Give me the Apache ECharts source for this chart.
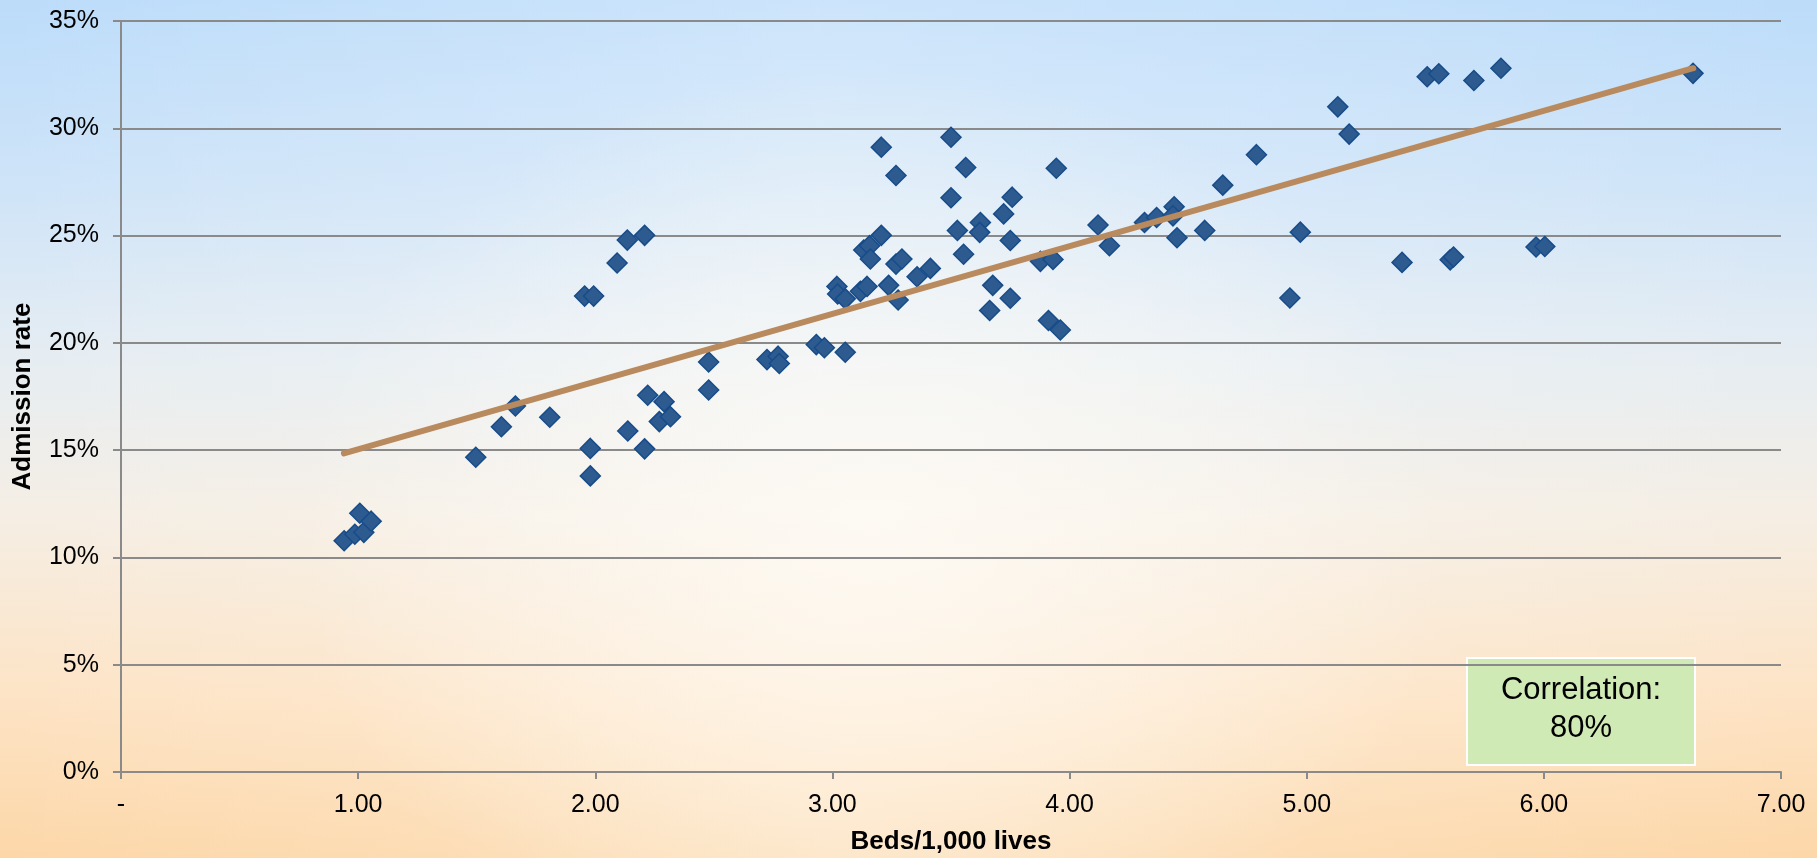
<!DOCTYPE html>
<html>
<head>
<meta charset="utf-8">
<script src="https://cdn.jsdelivr.net/npm/echarts@6/dist/echarts.min.js"></script>
<style>
html,body{margin:0;padding:0;width:1817px;height:858px;overflow:hidden;}
body{
  background:
    radial-gradient(ellipse 32% 55% at 48% 62%, rgba(255,252,246,0.75) 0%, rgba(255,252,246,0.35) 55%, rgba(255,252,246,0) 100%),
    linear-gradient(to right, rgba(255,255,255,0) 0%, rgba(255,255,255,0.25) 45%, rgba(255,255,255,0.15) 70%, rgba(255,255,255,0) 100%),
    linear-gradient(to bottom, #bcdcfa 0%, #cfe4f8 22%, #e6edf2 42%, #f5eee4 60%, #fde3c4 82%, #fcd7a8 100%);
}
#chart{width:1817px;height:858px;}
</style>
</head>
<body>
<div id="chart"></div>
<script>
// Beds per 1,000 lives (x) and admission rate in % (y)
const bedsX = [
  0.941,0.986,1.007,1.024,1.055,1.496,1.604,1.663,1.808,1.955,
  1.993,1.979,1.979,2.092,2.135,2.208,2.137,2.208,2.221,2.270,
  2.290,2.317,2.478,2.478,2.724,2.771,2.776,2.932,2.966,3.054,
  3.019,3.022,3.054,3.118,3.146,3.132,3.157,3.160,3.206,3.206,
  3.237,3.268,3.268,3.293,3.277,3.357,3.413,3.500,3.500,3.527,
  3.562,3.553,3.624,3.621,3.663,3.676,3.722,3.758,3.750,3.750,
  3.877,3.930,3.911,3.961,3.944,4.120,4.168,4.316,4.367,4.441,
  4.436,4.453,4.570,4.646,4.788,4.929,4.973,5.131,5.179,5.402,
  5.508,5.557,5.605,5.619,5.705,5.819,5.967,6.004,6.629
];
const admissionY = [
  10.78,11.08,12.06,11.17,11.69,14.67,16.09,17.06,16.53,22.18,
  22.18,13.80,15.08,23.72,24.79,25.01,15.89,15.06,17.56,16.33,
  17.26,16.56,19.11,17.80,19.22,19.38,19.04,19.92,19.77,19.56,
  22.63,22.28,22.05,22.40,22.63,24.33,24.53,23.91,25.01,29.12,
  22.68,27.80,23.67,23.91,22.00,23.08,23.47,29.58,26.76,25.24,
  28.17,24.13,25.61,25.15,21.51,22.68,26.01,26.79,24.77,22.08,
  23.80,23.89,21.04,20.60,28.14,25.49,24.53,25.61,25.84,26.34,
  25.92,24.90,25.24,27.35,28.77,22.09,25.16,31.00,29.73,23.75,
  32.40,32.54,23.87,24.00,32.23,32.80,24.47,24.49,32.56
];
// Trend line end points
const trendX = [0.94, 6.63];
const trendY = [14.85, 32.80];
const xTicks = [0, 1, 2, 3, 4, 5, 6, 7];
const yTicks = [0, 5, 10, 15, 20, 25, 30, 35];
const xTitle = 'Beds/1,000 lives';
const yTitle = 'Admission rate';
const noteLines = ['Correlation:', '80%'];

const chart = echarts.init(document.getElementById('chart'), null, {renderer: 'canvas'});
const pts = bedsX.map((x, i) => [x, admissionY[i]]);
const trend = trendX.map((x, i) => [x, trendY[i]]);
const FONT = '"Liberation Sans", Arial, sans-serif';
const GRID = '#8a8a8a';

chart.setOption({
  backgroundColor: 'transparent',
  animation: false,
  grid: {left: 121, right: 36, top: 21, bottom: 86, containLabel: false, outerBoundsMode: 'none'},
  xAxis: {
    type: 'value', min: xTicks[0], max: xTicks[xTicks.length - 1], interval: 1,
    name: xTitle, nameLocation: 'middle', nameGap: 57, nameMoveOverlap: false,
    nameTextStyle: {fontFamily: FONT, fontWeight: 'bold', fontSize: 26, color: '#000'},
    axisLine: {show: true, onZero: false, lineStyle: {color: GRID, width: 2}},
    axisTick: {show: true, length: 7, lineStyle: {color: GRID, width: 2}},
    axisLabel: {fontFamily: FONT, fontSize: 25, color: '#000', margin: 21,
      formatter: v => v === 0 ? '-' : v.toFixed(2)},
    splitLine: {show: false}
  },
  yAxis: {
    type: 'value', min: yTicks[0], max: yTicks[yTicks.length - 1], interval: 5,
    name: yTitle, nameLocation: 'middle', nameGap: 85, nameRotate: 90, nameMoveOverlap: false,
    nameTextStyle: {fontFamily: FONT, fontWeight: 'bold', fontSize: 26, color: '#000'},
    axisLine: {show: true, onZero: false, lineStyle: {color: GRID, width: 2}},
    axisTick: {show: true, length: 8, lineStyle: {color: GRID, width: 2}},
    axisLabel: {fontFamily: FONT, fontSize: 25, color: '#000', margin: 22,
      formatter: v => v + '%'},
    splitLine: {show: true, lineStyle: {color: GRID, width: 2}}
  },
  series: [
    {
      type: 'scatter', data: pts, symbol: 'diamond', symbolSize: 20, z: 2,
      itemStyle: {color: '#2e5b8f', borderColor: '#174c8a', borderWidth: 1.5, opacity: 1}
    },
    {
      type: 'line', data: trend, symbol: 'none', z: 3,
      lineStyle: {color: '#b98a5d', width: 6, cap: 'round'}
    }
  ],
  graphic: [{
    type: 'group', left: 1466, top: 657,
    children: [
      {type: 'rect', shape: {x: 0, y: 0, width: 228, height: 107},
        style: {fill: '#d0eab6', stroke: '#ffffff', lineWidth: 2}},
      {type: 'text', x: 114, y: 32, style: {text: noteLines[0], fontFamily: FONT, fontSize: 31,
        fill: '#000', align: 'center', verticalAlign: 'middle'}},
      {type: 'text', x: 114, y: 70, style: {text: noteLines[1], fontFamily: FONT, fontSize: 31,
        fill: '#000', align: 'center', verticalAlign: 'middle'}}
    ]
  }]
});
</script>
</body>
</html>
